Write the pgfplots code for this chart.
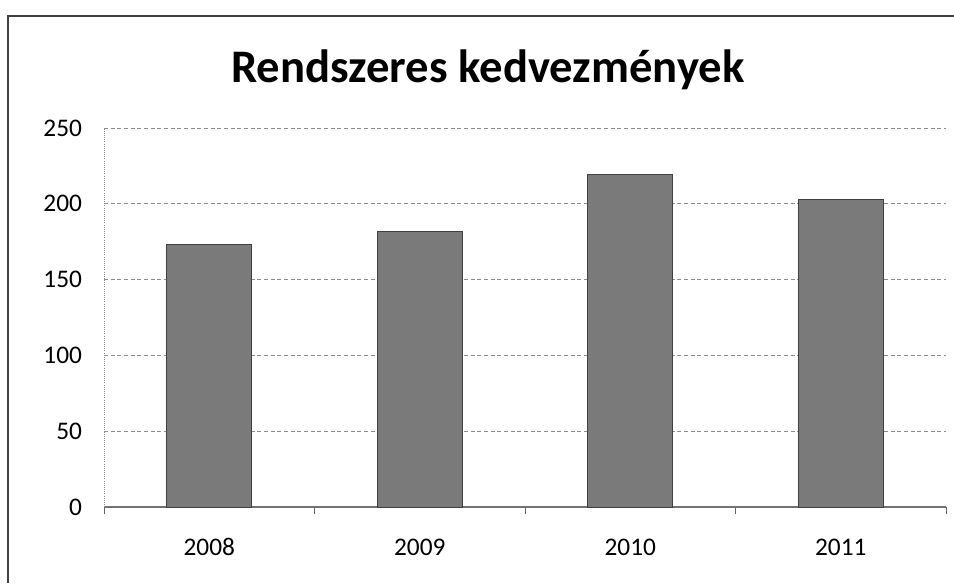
\documentclass[border=0pt]{standalone}
\usepackage{fontspec}
\setmainfont{Carlito}
\usepackage{pgfplots}
\pgfplotsset{compat=1.18}
\usetikzlibrary{calc}
\begin{document}
\begin{tikzpicture}[x=0.75pt,y=0.75pt]
\begin{axis}[
  scale only axis,
  width=631.5pt, height=284.25pt,
  xmin=-0.5, xmax=3.5,
  ymin=0, ymax=250,
  ytick={0,50,100,150,200,250},
  xtick={0,1,2,3},
  xticklabels={2008,2009,2010,2011},
  minor xtick={-0.5,0.5,1.5,2.5,3.5},
  axis lines*=left,
  x axis line style={black!55, line width=0.8pt},
  y axis line style={black!45, densely dotted, line width=0.6pt},
  major tick length=0pt,
  minor tick length=5pt,
  tick align=outside,
  minor x tick style={black!60, line width=0.6pt},
  ymajorgrids,
  major grid style={black!45, densely dashed, line width=0.5pt},
  /pgf/number format/assume math mode=true,
  ticklabel style={font=\fontsize{19}{19}\selectfont},
  xticklabel style={yshift=-20pt, text height=13pt, text depth=0pt},
  yticklabel style={xshift=-13pt},
  clip=false,
]
\addplot[ybar, bar width=63.75pt, fill=black!52, draw=black!75, line width=0.6pt]
  coordinates {(0,173) (1,181.5) (2,219.5) (3,203)};
\coordinate (O) at (rel axis cs:0,0);
\end{axis}
\path[use as bounding box] ($(O)+(-104,-76)$) rectangle ++(954,583);
\draw[black!75, line width=1.2pt] ($(O)+(-96,-76)$) -- ($(O)+(-96,491)$) -- ($(O)+(850,491)$);
\node[anchor=base, font=\fontsize{35}{35}\bfseries\selectfont] at ($(O)+(384,424)$) {Rendszeres kedvezmények};
\end{tikzpicture}
\end{document}
